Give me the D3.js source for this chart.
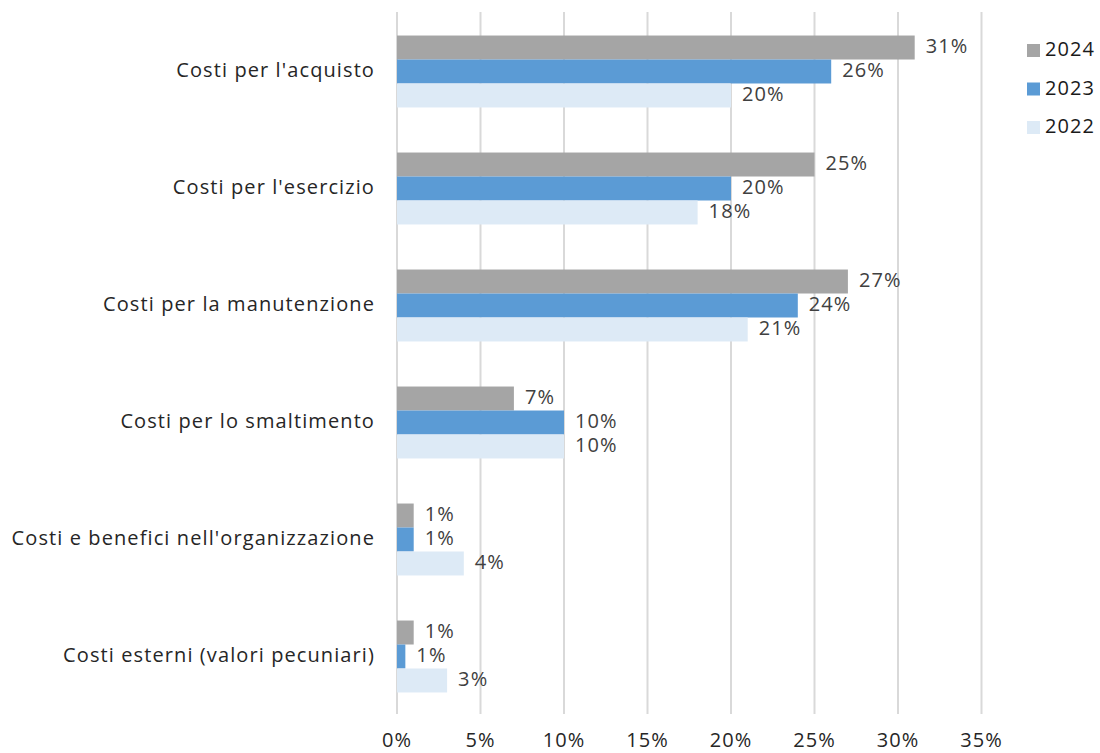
<!DOCTYPE html>
<html>
<head>
<meta charset="utf-8">
<script src="https://cdn.jsdelivr.net/npm/d3@7"></script>
<style>
	body { margin: 0; background: #fff; }
	svg { display: block; font-family: "Open Sans", sans-serif; letter-spacing: 1.1px; }
</style>
</head>
<body>
<svg id="chart" width="1100" height="753"></svg>
<script>
// categories, top to bottom
const categories = [
	"Costi per l'acquisto",
	"Costi per l'esercizio",
	"Costi per la manutenzione",
	"Costi per lo smaltimento",
	"Costi e benefici nell'organizzazione",
	"Costi esterni (valori pecuniari)"
];
const years = ["2024", "2023", "2022"];
// values in percent, one array per year
const values2024 = [31, 25, 27, 7, 1, 1];
const values2023 = [26, 20, 24, 10, 1, 0.5];
const values2022 = [20, 18, 21, 10, 4, 3];
const xTicks = [0, 5, 10, 15, 20, 25, 30, 35];
const colors = ["#a5a5a5", "#5b9bd5", "#ddeaf6"];

const seriesValues = [values2024, values2023, values2022];

const svg = d3.select("#chart");
const margin = {top: 13, right: 120, bottom: 38, left: 397};
const width = 1100, height = 753;

const x = d3.scaleLinear()
	.domain([0, 35])
	.range([margin.left, margin.left + 35 * 16.7]);

const y = d3.scaleBand()
	.domain(categories)
	.range([margin.top, height - margin.bottom])
	.paddingInner(0.385)
	.paddingOuter(0.1925);

const ySub = d3.scaleBand()
	.domain(years)
	.range([0, y.bandwidth()]);

// gridlines
svg.append("g")
	.selectAll("line")
	.data(xTicks)
	.join("line")
	.attr("x1", d => x(d)).attr("x2", d => x(d))
	.attr("y1", 12).attr("y2", 714)
	.attr("stroke", "#d9d9d9")
	.attr("stroke-width", 2);

// x tick labels
svg.append("g")
	.selectAll("text")
	.data(xTicks)
	.join("text")
	.attr("x", d => x(d))
	.attr("y", 747)
	.attr("text-anchor", "middle")
	.attr("fill", "#262626")
	.style("font-size", "20px")
	.text(d => d + "%");

// category labels
svg.append("g")
	.selectAll("text")
	.data(categories)
	.join("text")
	.attr("x", margin.left - 22)
	.attr("y", d => y(d) + y.bandwidth() / 2)
	.attr("text-anchor", "end")
	.attr("dominant-baseline", "middle")
	.attr("fill", "#262626")
	.style("font-size", "20px")
	.text(d => d);

// bars
const rows = [];
categories.forEach((c, i) => {
	years.forEach((yr, j) => {
		rows.push({cat: c, year: yr, value: seriesValues[j][i], color: colors[j]});
	});
});

const bars = svg.append("g");
bars.selectAll("rect")
	.data(rows)
	.join("rect")
	.attr("x", x(0))
	.attr("y", d => y(d.cat) + ySub(d.year))
	.attr("width", d => x(d.value) - x(0))
	.attr("height", ySub.bandwidth())
	.attr("fill", d => d.color);

// value labels
bars.selectAll("text")
	.data(rows)
	.join("text")
	.attr("x", d => x(d.value) + 11)
	.attr("y", d => y(d.cat) + ySub(d.year) + ySub.bandwidth() / 2)
	.attr("dominant-baseline", "middle")
	.attr("fill", "#404040")
	.style("font-size", "20px")
	.text(d => Math.round(d.value + 0.001) + "%");

// legend
const legend = svg.append("g")
	.selectAll("g")
	.data(years)
	.join("g")
	.attr("transform", (d, i) => `translate(1027, ${51 + i * 38.5})`);

legend.append("rect")
	.attr("x", 0).attr("y", -7)
	.attr("width", 13).attr("height", 13)
	.attr("fill", (d, i) => colors[i]);

legend.append("text")
	.attr("x", 18)
	.attr("y", 0)
	.attr("dominant-baseline", "middle")
	.attr("fill", "#1a1a1a")
	.style("font-size", "20px")
	.text(d => d);
</script>
</body>
</html>
